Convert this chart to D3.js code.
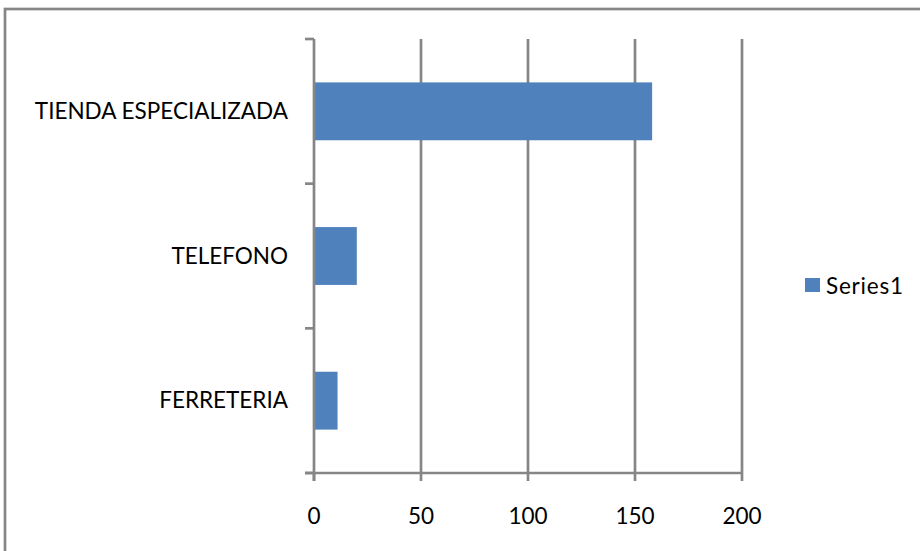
<!DOCTYPE html>
<html>
<head>
<meta charset="utf-8">
<script src="https://cdn.jsdelivr.net/npm/d3@7"></script>
<style>
  html, body { margin: 0; padding: 0; background: #fff; }
  svg { display: block; }
  text { font-family: Lato, "Open Sans", sans-serif; fill: #000; }
</style>
</head>
<body>
<svg id="chart" width="920" height="551"></svg>
<script>
// Channel counts, bottom-to-top order as listed on the category axis
const categories = ["FERRETERIA", "TELEFONO", "TIENDA ESPECIALIZADA"];
const values = [11, 20, 158];
const xTicks = [0, 50, 100, 150, 200];
const seriesName = "Series1";

const W = 920, H = 551;
const plot = { left: 314, right: 742, top: 39, bottom: 473 };
const gridColor = "#868686";
const barColor = "#4F81BD";
const fontSize = 22.5;

const svg = d3.select("#chart");

// Chart frame
svg.append("rect")
  .attr("x", 5).attr("y", 9)
  .attr("width", W + 10).attr("height", H + 10)
  .attr("fill", "#fff")
  .attr("stroke", gridColor).attr("stroke-width", 2.7);

const x = d3.scaleLinear().domain([0, 200]).range([plot.left, plot.right]);
const y = d3.scaleBand().domain(categories.slice().reverse())
  .range([plot.top, plot.bottom]).paddingInner(0.6).paddingOuter(0.3);

// Vertical gridlines
svg.append("g").selectAll("line").data(xTicks.slice(1)).join("line")
  .attr("x1", d => x(d)).attr("x2", d => x(d))
  .attr("y1", plot.top).attr("y2", plot.bottom)
  .attr("stroke", gridColor).attr("stroke-width", 2.7);

// Bars
svg.append("g").selectAll("rect").data(categories).join("rect")
  .attr("x", x(0))
  .attr("y", d => y(d))
  .attr("width", (d, i) => x(values[i]) - x(0))
  .attr("height", y.bandwidth())
  .attr("fill", barColor);

// Category axis (left) with boundary tick marks
const bandEdges = d3.range(categories.length + 1)
  .map(i => plot.top + i * (plot.bottom - plot.top) / categories.length);
const yAxis = svg.append("g");
yAxis.append("line")
  .attr("x1", x(0)).attr("x2", x(0))
  .attr("y1", plot.top).attr("y2", plot.bottom + 8)
  .attr("stroke", gridColor).attr("stroke-width", 2.7);
yAxis.selectAll("line.tick").data(bandEdges).join("line")
  .attr("class", "tick")
  .attr("x1", x(0) - 9).attr("x2", x(0))
  .attr("y1", d => d).attr("y2", d => d)
  .attr("stroke", gridColor).attr("stroke-width", 2.7);
yAxis.selectAll("text").data(categories).join("text")
  .attr("x", x(0) - 26)
  .attr("y", d => y(d) + y.bandwidth() / 2 - 1)
  .attr("text-anchor", "end")
  .attr("dominant-baseline", "central")
  .style("font-size", fontSize + "px")
  .text(d => d);

// Value axis (bottom)
const xAxis = svg.append("g");
xAxis.append("line")
  .attr("x1", x(0) - 9).attr("x2", plot.right)
  .attr("y1", plot.bottom).attr("y2", plot.bottom)
  .attr("stroke", gridColor).attr("stroke-width", 2.7);
xAxis.selectAll("line.tick").data(xTicks).join("line")
  .attr("class", "tick")
  .attr("x1", d => x(d)).attr("x2", d => x(d))
  .attr("y1", plot.bottom).attr("y2", plot.bottom + 8)
  .attr("stroke", gridColor).attr("stroke-width", 2.7);
xAxis.selectAll("text").data(xTicks).join("text")
  .attr("x", d => x(d))
  .attr("y", 515)
  .attr("text-anchor", "middle")
  .attr("dominant-baseline", "central")
  .style("font-size", fontSize + "px")
  .text(d => d);

// Legend
const legend = svg.append("g");
legend.append("rect")
  .attr("x", 805).attr("y", 278).attr("width", 15).attr("height", 14)
  .attr("fill", barColor);
legend.append("text")
  .attr("x", 826).attr("y", 285)
  .attr("dominant-baseline", "central")
  .style("font-size", fontSize + "px")
  .style("letter-spacing", "0.8px")
  .text(seriesName);
</script>
</body>
</html>
